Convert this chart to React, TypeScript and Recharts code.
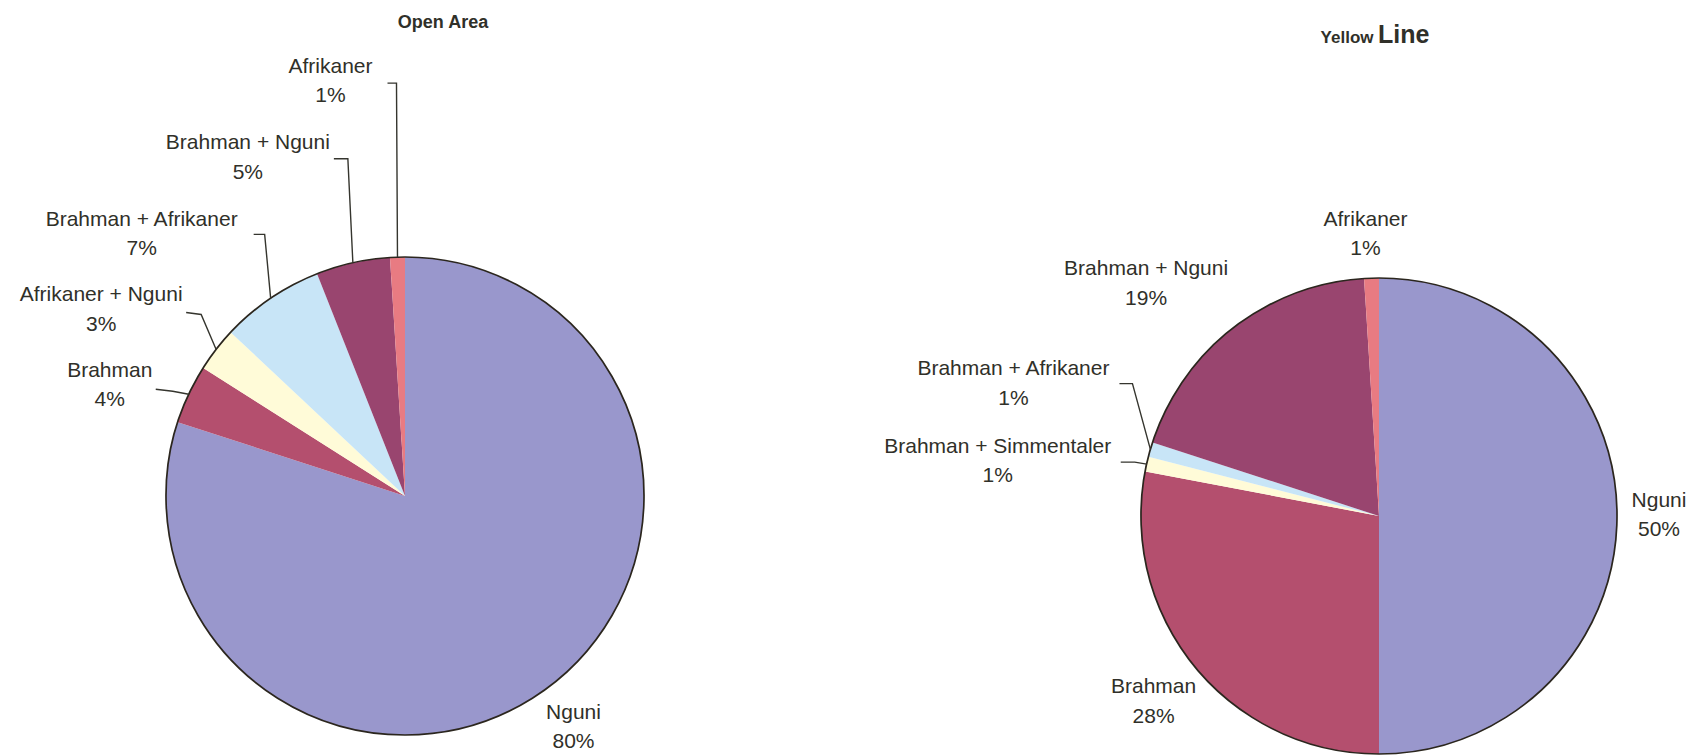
import React from 'react';
import { PieChart, Pie, Cell } from 'recharts';

// ---- data ----
const openCategories = ['Nguni', 'Brahman', 'Afrikaner + Nguni', 'Brahman + Afrikaner', 'Brahman + Nguni', 'Afrikaner'];
const openValues = [80, 4, 3, 7, 5, 1];

const yellowCategories = ['Nguni', 'Brahman', 'Brahman + Simmentaler', 'Brahman + Afrikaner', 'Brahman + Nguni', 'Afrikaner'];
const yellowValues = [50, 28, 1, 1, 19, 1];

const openTitle = 'Open Area';
const yellowTitleParts = ['Yellow', 'Line'];

// ---- styles ----
const COLORS: Record<string, string> = {
  'Nguni': '#9997cc',
  'Brahman': '#b44f6e',
  'Afrikaner + Nguni': '#fffbd8',
  'Brahman + Afrikaner': '#c8e5f7',
  'Brahman + Nguni': '#99456f',
  'Afrikaner': '#e87b82',
  'Brahman + Simmentaler': '#fffbd8',
};

const FONT = '"Liberation Sans", Arial, Helvetica, sans-serif';
const TEXT_COLOR = '#303029';
const OUTLINE = '#2b261e';
const R = 238;
const LINE_GAP = 29.5;
const LABEL_SIZE = 21;

type LabelLayout = { tx: number; ty: number; pts: number[][] };

// label placement, relative to the slice's outer edge point
const openLayout: LabelLayout[] = [
  { tx: 28, ty: 22, pts: [] },
  { tx: -79, ty: -25, pts: [[-16, -3], [-33, -5]] },
  { tx: -115, ty: -56, pts: [[-15, -35], [-30, -37]] },
  { tx: -129, ty: -80, pts: [[-6, -64], [-17, -64]] },
  { tx: -105, ty: -121, pts: [[-5, -104], [-19, -104]] },
  { tx: -67, ty: -192, pts: [[-1, -174], [-10, -174]] },
];

const yellowLayout: LabelLayout[] = [
  { tx: 42, ty: -17, pts: [] },
  { tx: -42, ty: 18, pts: [] },
  { tx: -149, ty: -19, pts: [[-12, -2], [-26, -2]] },
  { tx: -137, ty: -82, pts: [[-18, -66], [-31, -66]] },
  { tx: -87, ty: -60, pts: [] },
  { tx: -6, ty: -60, pts: [] },
];

const RADIAN = Math.PI / 180;

function makeLabel(layout: LabelLayout[]) {
  return (props: any) => {
    const { cx, cy, midAngle, outerRadius, index, name, value } = props;
    const ex = cx + Math.cos(-midAngle * RADIAN) * outerRadius;
    const ey = cy + Math.sin(-midAngle * RADIAN) * outerRadius;
    const l = layout[index];
    const tx = ex + l.tx;
    const ty = ey + l.ty;
    const pathPts = [[ex, ey], ...l.pts.map((p) => [ex + p[0], ey + p[1]])];
    const d = pathPts.map((p, i) => `${i === 0 ? 'M' : 'L'}${p[0]},${p[1]}`).join(' ');
    return (
      <g key={`lbl-${index}`}>
        {l.pts.length > 0 && <path d={d} fill="none" stroke="#35352e" strokeWidth={1.4} />}
        <text x={tx} y={ty} textAnchor="middle" dominantBaseline="central" fontFamily={FONT} fontSize={LABEL_SIZE} fill={TEXT_COLOR}>
          {name}
        </text>
        <text x={tx} y={ty + LINE_GAP} textAnchor="middle" dominantBaseline="central" fontFamily={FONT} fontSize={LABEL_SIZE} fill={TEXT_COLOR}>
          {`${value}%`}
        </text>
      </g>
    );
  };
}

const openData = openCategories.map((name, i) => ({ name, value: openValues[i] }));
const yellowData = yellowCategories.map((name, i) => ({ name, value: yellowValues[i] }));
const ring = [{ name: 'ring', value: 1 }];

const LEFT_CX = 400;
const LEFT_CY = 491;
const RIGHT_CX = 1374;
const RIGHT_CY = 511;

export default function App() {
  return (
    <div style={{ position: 'absolute', left: 0, top: 0, width: 1702, height: 755, background: '#ffffff', fontFamily: FONT }}>
      <div style={{ position: 'absolute', left: 243, top: 12, width: 400, textAlign: 'center', fontSize: 18, lineHeight: '20px', fontWeight: 700, color: TEXT_COLOR }}>
        {openTitle}
      </div>
      <div style={{ position: 'absolute', left: 1175, top: 19, width: 400, textAlign: 'center', lineHeight: '30px', fontWeight: 700, color: TEXT_COLOR }}>
        <span style={{ fontSize: 17 }}>{yellowTitleParts[0]}</span>{' '}
        <span style={{ fontSize: 25 }}>{yellowTitleParts[1]}</span>
      </div>
      <PieChart width={1702} height={755} style={{ position: 'absolute', left: 0, top: 0 }}>
        <Pie
          data={openData}
          dataKey="value"
          nameKey="name"
          cx={LEFT_CX}
          cy={LEFT_CY}
          outerRadius={R + 1}
          startAngle={90}
          endAngle={-270}
          stroke="none"
          isAnimationActive={false}
          labelLine={false}
          label={makeLabel(openLayout)}
        >
          {openData.map((d, i) => (
            <Cell key={i} fill={COLORS[d.name]} />
          ))}
        </Pie>
        <Pie
          data={ring}
          dataKey="value"
          cx={LEFT_CX}
          cy={LEFT_CY}
          innerRadius={R + 1}
          outerRadius={R + 1}
          startAngle={90}
          endAngle={-270}
          fill="none"
          stroke={OUTLINE}
          strokeWidth={1.7}
          isAnimationActive={false}
          label={false}
          labelLine={false}
        />
        <Pie
          data={yellowData}
          dataKey="value"
          nameKey="name"
          cx={RIGHT_CX}
          cy={RIGHT_CY}
          outerRadius={R}
          startAngle={90}
          endAngle={-270}
          stroke="none"
          isAnimationActive={false}
          labelLine={false}
          label={makeLabel(yellowLayout)}
        >
          {yellowData.map((d, i) => (
            <Cell key={i} fill={COLORS[d.name]} />
          ))}
        </Pie>
        <Pie
          data={ring}
          dataKey="value"
          cx={RIGHT_CX}
          cy={RIGHT_CY}
          innerRadius={R}
          outerRadius={R}
          startAngle={90}
          endAngle={-270}
          fill="none"
          stroke={OUTLINE}
          strokeWidth={1.7}
          isAnimationActive={false}
          label={false}
          labelLine={false}
        />
      </PieChart>
    </div>
  );
}
